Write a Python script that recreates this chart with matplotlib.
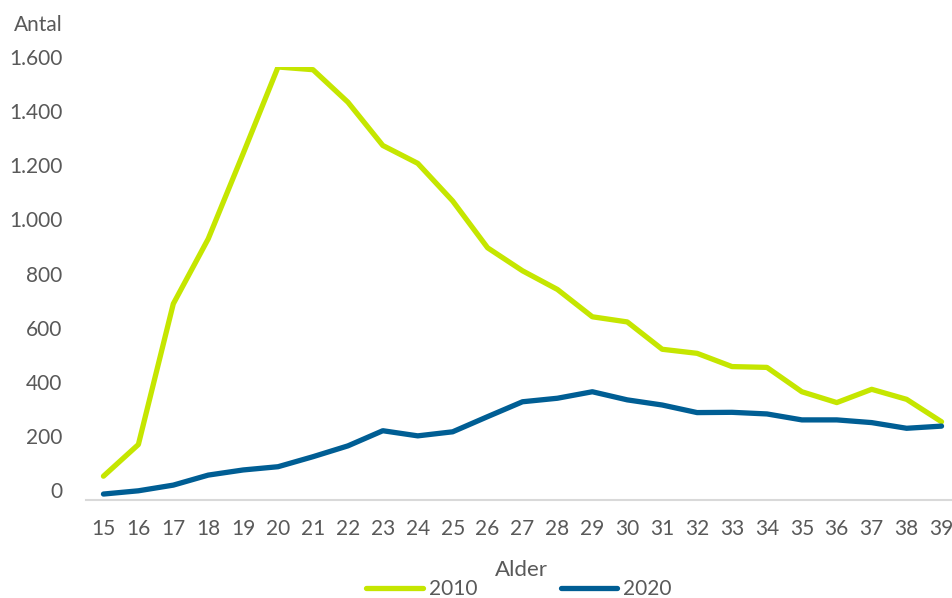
import matplotlib.pyplot as plt
import matplotlib.transforms as mtransforms
from matplotlib.ticker import FuncFormatter

plt.rcParams['font.family'] = ['Lato', 'DejaVu Sans']

ages = list(range(15, 40))
antal_2010 = [88, 205, 725, 965, 1280, 1600, 1590, 1470, 1310, 1244, 1105, 932,
              847, 778, 677, 658, 557, 542, 493, 490, 400, 360, 409, 372, 289]
antal_2020 = [22, 34, 55, 92, 111, 123, 160, 200, 256, 237, 252, 308,
              363, 376, 400, 370, 351, 323, 324, 318, 296, 296, 286, 265, 273]

GREEN = '#C5E600'
BLUE = '#005E94'
TXT = '#595959'

fig = plt.figure(figsize=(9.52, 5.98), dpi=100)
ax = fig.add_axes([86 / 952, 98 / 598, 873 / 952, 433 / 598])

ax.plot(ages, antal_2010, color=GREEN, lw=3.8, label='2010', solid_capstyle='round')
ax.plot(ages, antal_2020, color=BLUE, lw=3.8, label='2020', solid_capstyle='round')

ax.set_xlim(14.5, 39.5)
ax.set_ylim(0, 1600)
ax.set_xticks(ages)
ax.set_yticks(range(0, 1601, 200))
ax.yaxis.set_major_formatter(FuncFormatter(lambda v, p: f'{int(v):,}'.replace(',', '.')))

for s in ['top', 'right', 'left']:
    ax.spines[s].set_visible(False)
ax.spines['bottom'].set_color('#D9D9D9')
ax.spines['bottom'].set_linewidth(1.5)
ax.tick_params(axis='both', length=0, labelsize=15, labelcolor=TXT)
ax.tick_params(axis='y', pad=17)
ax.tick_params(axis='x', pad=14)

# Excel draws the value labels a little above their positions
shift = mtransforms.ScaledTranslation(0, 10 / 100, fig.dpi_scale_trans)
for lab in ax.get_yticklabels():
    lab.set_transform(lab.get_transform() + shift)

fig.text(63 / 952, 1 - 25 / 598, 'Antal', ha='right', va='center', fontsize=15, color=TXT)
fig.text(521 / 952, 1 - 570 / 598, 'Alder', ha='center', va='center', fontsize=16, color=TXT)

leg = fig.legend(loc='center', bbox_to_anchor=(519 / 952, 1 - 589 / 598), ncol=2,
                 frameon=False, fontsize=15, handlelength=2.7, handletextpad=0.3,
                 columnspacing=4.0, borderpad=0)
for t in leg.get_texts():
    t.set_color(TXT)

fig.savefig('out.png', dpi=100)
